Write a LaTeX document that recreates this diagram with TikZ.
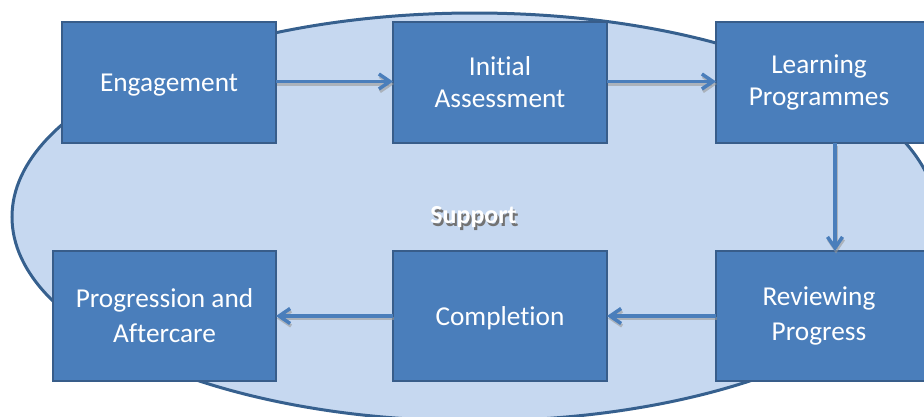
\documentclass[tikz,border=0pt]{standalone}
\usepackage{fontspec}
\setmainfont{Carlito}[Ligatures=NoCommon]
\usetikzlibrary{arrows.meta}
\definecolor{boxfill}{HTML}{4A7EBB}
\definecolor{boxline}{HTML}{385D8A}
\definecolor{ellfill}{HTML}{C6D8F0}
\definecolor{ellline}{HTML}{36608E}
\definecolor{arrcol}{HTML}{4A7EBB}
\tikzset{
  stepbox/.style={draw=boxline, line width=2.2pt, fill=boxfill, text=white,
    inner sep=0pt, outer sep=0pt, align=center,
    font=\fontsize{27.3}{32}\selectfont},
  oneline/.style={text height=22pt, text depth=4pt},
  flow/.style={draw=arrcol, line width=3.5pt,
    -{Straight Barb[length=11pt,width=15pt]},
    preaction={draw=black!40, opacity=0.6, line width=3.5pt,
      transform canvas={shift={(1pt,-2.5pt)}}}},
}
\begin{document}
\begin{tikzpicture}[x=1pt,y=-1pt]
\useasboundingbox (0,0) rectangle (924,416);
\begin{scope}
\clip (0,0) rectangle (924,416);
\draw[fill=ellfill, draw=ellline, line width=3pt] (474.5,217) ellipse [x radius=462.5, y radius=204];
\node[text=white, font=\fontsize{26}{30}\selectfont\bfseries] (sup) at (473.5,218.5)
  {\makebox[0pt][l]{\hspace{2pt}\raisebox{-2.5pt}{\color{black!55}Support}}Support};
\node[stepbox, oneline, minimum width=214, minimum height=121] (eng) at (169,82.5) {Engagement};
\node[stepbox, minimum width=214, minimum height=121] (init) at (500,82.5) {Initial\\Assessment};
\node[stepbox, minimum width=212, minimum height=121] (learn) at (822,82.5) {\hspace*{-6pt}Learning\\\hspace*{-6pt}Programmes};
\node[stepbox, minimum width=223, minimum height=130] (prog) at (164.5,316) {Progression and\\[3pt]Aftercare};
\node[stepbox, oneline, minimum width=214, minimum height=130] (comp) at (500,316) {Completion};
\node[stepbox, minimum width=212, minimum height=130] (rev) at (822,316) {\hspace*{-6pt}Reviewing\\[3pt]\hspace*{-6pt}Progress};
\draw[flow] ([yshift=1pt]eng.east) -- ([yshift=1pt]init.west);
\draw[flow] ([yshift=1pt]init.east) -- ([yshift=1pt]learn.west);
\draw[flow] ([xshift=13pt]learn.south) -- ([xshift=13pt]rev.north);
\draw[flow] (rev.west) -- (comp.east);
\draw[flow] (comp.west) -- (prog.east);
\end{scope}
\end{tikzpicture}
\end{document}
